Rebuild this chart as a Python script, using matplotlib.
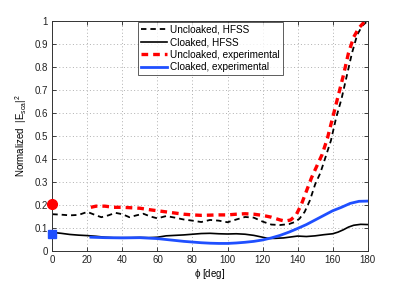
import matplotlib
matplotlib.use("Agg")
import matplotlib.pyplot as plt

plt.rcParams['font.family'] = ['Liberation Sans', 'DejaVu Sans']
plt.rcParams['mathtext.fontset'] = 'custom'
plt.rcParams['mathtext.rm'] = 'Liberation Sans'
plt.rcParams['mathtext.it'] = 'Liberation Sans'

# Uncloaked, HFSS
phi_unc_hfss = [0, 5, 10, 15, 20, 25, 28, 32, 36, 40, 44, 48, 52, 56, 60, 65, 70, 75, 80, 85,
                90, 95, 100, 105, 110, 115, 120, 125, 130, 135, 138, 141, 144, 147, 150, 153,
                156, 159, 162, 165, 168, 171, 174, 177, 180]
val_unc_hfss = [0.16, 0.158, 0.155, 0.157, 0.17, 0.155, 0.147, 0.155, 0.166, 0.16, 0.147, 0.155,
                0.162, 0.15, 0.142, 0.152, 0.145, 0.137, 0.132, 0.126, 0.135, 0.132, 0.125, 0.137,
                0.148, 0.145, 0.128, 0.115, 0.113, 0.117, 0.125, 0.14, 0.17, 0.22, 0.29, 0.34,
                0.41, 0.48, 0.58, 0.66, 0.76, 0.86, 0.94, 0.98, 1.0]

# Cloaked, HFSS
phi_clk_hfss = [0, 5, 10, 15, 20, 25, 30, 35, 40, 45, 50, 55, 60, 65, 70, 75, 80, 85, 90, 95,
                100, 105, 110, 115, 120, 123, 127, 132, 137, 140, 145, 150, 155, 160, 163, 166,
                169, 172, 176, 180]
val_clk_hfss = [0.081, 0.077, 0.072, 0.069, 0.067, 0.064, 0.06, 0.058, 0.058, 0.058, 0.059, 0.058,
                0.06, 0.066, 0.068, 0.07, 0.073, 0.076, 0.077, 0.075, 0.074, 0.075, 0.073, 0.068,
                0.06, 0.055, 0.055, 0.057, 0.062, 0.065, 0.063, 0.066, 0.071, 0.075, 0.082, 0.092,
                0.104, 0.112, 0.116, 0.115]

# Uncloaked, experimental
phi_unc_exp = [22, 25, 30, 35, 40, 45, 50, 55, 60, 65, 70, 75, 80, 85, 90, 95, 100, 105, 110,
               115, 120, 125, 130, 133, 136, 139, 142, 145, 148, 151, 154, 157, 160, 163, 166,
               169, 172, 175, 178, 180]
val_unc_exp = [0.19, 0.195, 0.195, 0.19, 0.19, 0.188, 0.186, 0.18, 0.175, 0.17, 0.165, 0.16,
               0.157, 0.155, 0.156, 0.157, 0.157, 0.16, 0.162, 0.16, 0.155, 0.147, 0.135, 0.13,
               0.135, 0.155, 0.2, 0.26, 0.32, 0.37, 0.42, 0.49, 0.58, 0.67, 0.76, 0.86, 0.93,
               0.97, 0.995, 1.0]

# Cloaked, experimental
phi_clk_exp = [22, 30, 40, 50, 55, 60, 65, 70, 75, 80, 85, 90, 95, 100, 105, 110, 115, 120, 125,
               130, 135, 140, 145, 150, 155, 160, 165, 170, 175, 180]
val_clk_exp = [0.06, 0.058, 0.057, 0.058, 0.056, 0.054, 0.05, 0.046, 0.042, 0.039, 0.036, 0.034,
               0.033, 0.033, 0.035, 0.038, 0.042, 0.048, 0.057, 0.068, 0.082, 0.098, 0.115, 0.135,
               0.155, 0.175, 0.19, 0.207, 0.216, 0.217]

# Measured points at phi = 0
phi0 = [0]
unc_exp_0 = [0.205]
clk_exp_0 = [0.072]

xticks = list(range(0, 181, 20))
yticks = [i / 10 for i in range(0, 11)]

fig = plt.figure(figsize=(4.07, 2.83), dpi=100)
ax = fig.add_axes([0.1285, 0.113, 0.775, 0.813])

ax.plot(phi_unc_hfss, val_unc_hfss, color='black', lw=1.3, ls=(0, (3, 2.2)),
        label='Uncloaked, HFSS')
ax.plot(phi_clk_hfss, val_clk_hfss, color='black', lw=1.2, label='Cloaked, HFSS')
ax.plot(phi_unc_exp, val_unc_exp, color='#ff0000', lw=2.4, ls=(0, (2, 1.5)),
        label='Uncloaked, experimental')
ax.plot(phi_clk_exp, val_clk_exp, color='#1f4fff', lw=2.0, label='Cloaked, experimental')
ax.plot(phi0, unc_exp_0, 'o', color='#ff0000', ms=7, clip_on=False, zorder=5)
ax.plot(phi0, clk_exp_0, 's', color='#1f4fff', ms=5.5, clip_on=False, zorder=5)

ax.set_xlim(0, 180)
ax.set_ylim(0, 1)
ax.set_xticks(xticks)
ax.set_yticks(yticks)
ax.set_yticklabels(['0' if v == 0 else ('1' if v == 1 else f'{v:.1f}') for v in yticks])
ax.tick_params(direction='in', top=True, right=True, labelsize=7, length=3, width=0.6,
               pad=3, colors='#222222')
ax.grid(True, ls=(0, (1, 2.5)), color='#b0b0b0', lw=0.7)
for s in ax.spines.values():
    s.set_linewidth(0.7)
    s.set_color('#333333')

ax.set_xlabel(r'$\phi$ [deg]', fontsize=7, labelpad=1)
ax.set_ylabel(r'Normalized  $|\mathregular{E_{sca}}|^2$', fontsize=7, labelpad=4)

leg = ax.legend(loc='upper left', bbox_to_anchor=(0.272, 0.997), fontsize=7.2,
                frameon=True, fancybox=False, edgecolor='#333333', handlelength=2.6,
                handletextpad=0.3, borderpad=0.3, labelspacing=0.25, borderaxespad=0)
leg.get_frame().set_linewidth(0.7)

fig.savefig('out.png', dpi=100)
